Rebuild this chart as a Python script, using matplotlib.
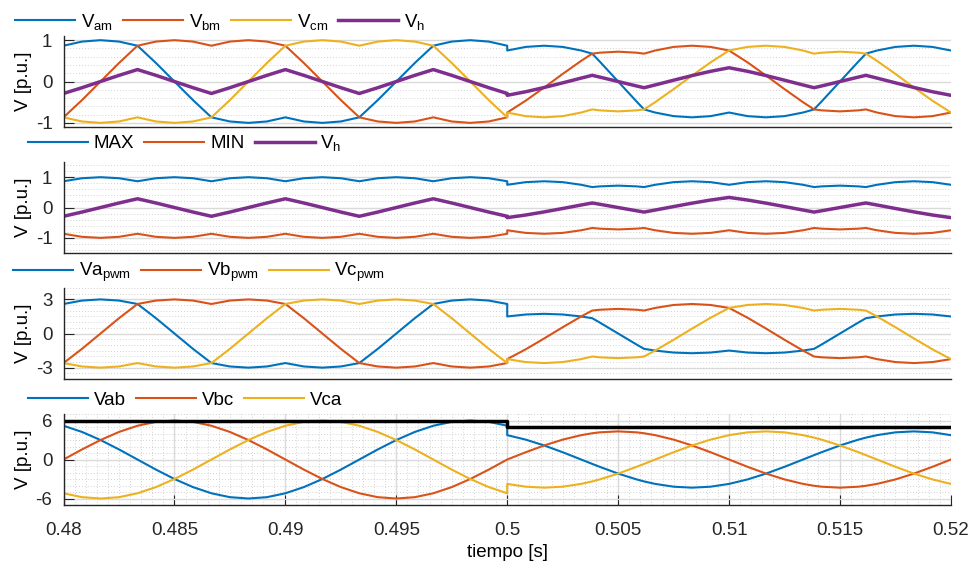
import numpy as np
import matplotlib
matplotlib.use("Agg")
import matplotlib.pyplot as plt
from matplotlib.ticker import MultipleLocator

plt.rcParams['font.family'] = ['Liberation Sans', 'DejaVu Sans']
plt.rcParams['mathtext.fontset'] = 'custom'
plt.rcParams['mathtext.rm'] = 'Liberation Sans'
plt.rcParams['axes.unicode_minus'] = False

# ---- data (two halves: before / after the step at t = 0.5 s) ----
t_pre = [0.48, 0.480833, 0.481667, 0.4825, 0.483333, 0.484167, 0.485, 0.485833, 0.486667,
         0.4875, 0.488333, 0.489167, 0.49, 0.490833, 0.491667, 0.4925, 0.493333, 0.494167,
         0.495, 0.495833, 0.496667, 0.4975, 0.498333, 0.499167, 0.5]
t_post = [0.5, 0.500833, 0.501667, 0.5025, 0.503333, 0.503831, 0.504167, 0.505, 0.505833,
          0.506169, 0.506667, 0.5075, 0.508333, 0.509167, 0.51, 0.510833, 0.511667, 0.5125,
          0.513333, 0.513831, 0.514167, 0.515, 0.515833, 0.516169, 0.516667, 0.5175,
          0.518333, 0.519167, 0.52]

# panel 1: modulating signals + zero sequence
vam_pre = [0.866, 0.966, 1.0, 0.966, 0.866, 0.448, 0.0, -0.448, -0.866, -0.966, -1.0, -0.966, -0.866,
           -0.966, -1.0, -0.966, -0.866, -0.448, 0.0, 0.448, 0.866, 0.966, 1.0, 0.966, 0.866]
vbm_pre = [-0.866, -0.448, 0.0, 0.448, 0.866, 0.966, 1.0, 0.966, 0.866, 0.966, 1.0, 0.966, 0.866,
           0.448, 0.0, -0.448, -0.866, -0.966, -1.0, -0.966, -0.866, -0.966, -1.0, -0.966, -0.866]
vcm_pre = [-0.866, -0.966, -1.0, -0.966, -0.866, -0.966, -1.0, -0.966, -0.866, -0.448, 0.0, 0.448, 0.866,
           0.966, 1.0, 0.966, 0.866, 0.966, 1.0, 0.966, 0.866, 0.448, 0.0, -0.448, -0.866]
vh_pre = [-0.289, -0.149, 0.0, 0.149, 0.289, 0.149, 0.0, -0.149, -0.289, -0.149, 0.0, 0.149, 0.289,
          0.149, 0.0, -0.149, -0.289, -0.149, 0.0, 0.149, 0.289, 0.149, 0.0, -0.149, -0.289]

vam_post = [0.75, 0.837, 0.866, 0.837, 0.75, 0.674, 0.485, 0.0, -0.485, -0.674, -0.75, -0.837, -0.866,
            -0.837, -0.75, -0.837, -0.866, -0.837, -0.75, -0.674, -0.485, 0.0, 0.485, 0.674, 0.75,
            0.837, 0.866, 0.837, 0.75]
vbm_post = [-0.75, -0.463, -0.144, 0.184, 0.5, 0.674, 0.697, 0.722, 0.697, 0.674, 0.75, 0.837, 0.866,
            0.837, 0.75, 0.463, 0.144, -0.184, -0.5, -0.674, -0.697, -0.722, -0.697, -0.674, -0.75,
            -0.837, -0.866, -0.837, -0.75]
vcm_post = [-0.75, -0.837, -0.866, -0.837, -0.75, -0.674, -0.697, -0.722, -0.697, -0.674, -0.5, -0.184,
            0.144, 0.463, 0.75, 0.837, 0.866, 0.837, 0.75, 0.674, 0.697, 0.722, 0.697, 0.674, 0.5,
            0.184, -0.144, -0.463, -0.75]
vh_post = [-0.333, -0.247, -0.144, -0.032, 0.083, 0.150, 0.108, 0.0, -0.108, -0.150, -0.083, 0.032,
           0.144, 0.247, 0.333, 0.247, 0.144, 0.032, -0.083, -0.150, -0.108, 0.0, 0.108, 0.150,
           0.083, -0.032, -0.144, -0.247, -0.333]

# panel 2: envelope of the modulating signals
max_pre = [0.866, 0.966, 1.0, 0.966, 0.866, 0.966, 1.0, 0.966, 0.866, 0.966, 1.0, 0.966, 0.866,
           0.966, 1.0, 0.966, 0.866, 0.966, 1.0, 0.966, 0.866, 0.966, 1.0, 0.966, 0.866]
min_pre = [-0.866, -0.966, -1.0, -0.966, -0.866, -0.966, -1.0, -0.966, -0.866, -0.966, -1.0, -0.966,
           -0.866, -0.966, -1.0, -0.966, -0.866, -0.966, -1.0, -0.966, -0.866, -0.966, -1.0, -0.966,
           -0.866]
max_post = [0.75, 0.837, 0.866, 0.837, 0.75, 0.674, 0.697, 0.722, 0.697, 0.674, 0.75, 0.837, 0.866,
            0.837, 0.75, 0.837, 0.866, 0.837, 0.75, 0.674, 0.697, 0.722, 0.697, 0.674, 0.75, 0.837,
            0.866, 0.837, 0.75]
min_post = [-0.75, -0.837, -0.866, -0.837, -0.75, -0.674, -0.697, -0.722, -0.697, -0.674, -0.75,
            -0.837, -0.866, -0.837, -0.75, -0.837, -0.866, -0.837, -0.75, -0.674, -0.697, -0.722,
            -0.697, -0.674, -0.75, -0.837, -0.866, -0.837, -0.75]

# panel 3: phase pwm voltages
vapwm_pre = [2.598, 2.898, 3.0, 2.898, 2.598, 1.345, 0.0, -1.345, -2.598, -2.898, -3.0, -2.898, -2.598,
             -2.898, -3.0, -2.898, -2.598, -1.345, 0.0, 1.345, 2.598, 2.898, 3.0, 2.898, 2.598]
vbpwm_pre = [-2.598, -1.345, 0.0, 1.345, 2.598, 2.898, 3.0, 2.898, 2.598, 2.898, 3.0, 2.898, 2.598,
             1.345, 0.0, -1.345, -2.598, -2.898, -3.0, -2.898, -2.598, -2.898, -3.0, -2.898, -2.598]
vcpwm_pre = [-2.598, -2.898, -3.0, -2.898, -2.598, -2.898, -3.0, -2.898, -2.598, -1.345, 0.0, 1.345,
             2.598, 2.898, 3.0, 2.898, 2.598, 2.898, 3.0, 2.898, 2.598, 1.345, 0.0, -1.345, -2.598]
vapwm_post = [1.5, 1.673, 1.732, 1.673, 1.5, 1.347, 0.971, 0.0, -0.971, -1.347, -1.5, -1.673, -1.732,
              -1.673, -1.5, -1.673, -1.732, -1.673, -1.5, -1.347, -0.971, 0.0, 0.971, 1.347, 1.5,
              1.673, 1.732, 1.673, 1.5]
vbpwm_post = [-2.25, -1.389, -0.433, 0.552, 1.5, 2.021, 2.091, 2.165, 2.091, 2.021, 2.25, 2.51, 2.598,
              2.51, 2.25, 1.389, 0.433, -0.552, -1.5, -2.021, -2.091, -2.165, -2.091, -2.021, -2.25,
              -2.51, -2.598, -2.51, -2.25]
vcpwm_post = [-2.25, -2.51, -2.598, -2.51, -2.25, -2.021, -2.091, -2.165, -2.091, -2.021, -1.5, -0.552,
              0.433, 1.389, 2.25, 2.51, 2.598, 2.51, 2.25, 2.021, 2.091, 2.165, 2.091, 2.021, 1.5,
              0.552, -0.433, -1.389, -2.25]

# panel 4: line voltages and dc level
vab_pre = [5.196, 4.243, 3.0, 1.553, 0.0, -1.553, -3.0, -4.243, -5.196, -5.796, -6.0, -5.796, -5.196,
           -4.243, -3.0, -1.553, 0.0, 1.553, 3.0, 4.243, 5.196, 5.796, 6.0, 5.796, 5.196]
vbc_pre = [0.0, 1.553, 3.0, 4.243, 5.196, 5.796, 6.0, 5.796, 5.196, 4.243, 3.0, 1.553, 0.0,
           -1.553, -3.0, -4.243, -5.196, -5.796, -6.0, -5.796, -5.196, -4.243, -3.0, -1.553, 0.0]
vca_pre = [-5.196, -5.796, -6.0, -5.796, -5.196, -4.243, -3.0, -1.553, 0.0, 1.553, 3.0, 4.243, 5.196,
           5.796, 6.0, 5.796, 5.196, 4.243, 3.0, 1.553, 0.0, -1.553, -3.0, -4.243, -5.196]
vab_post = [3.75, 3.062, 2.165, 1.121, 0.0, -0.674, -1.121, -2.165, -3.062, -3.37, -3.75, -4.182,
            -4.33, -4.182, -3.75, -3.062, -2.165, -1.121, 0.0, 0.674, 1.121, 2.165, 3.062, 3.37,
            3.75, 4.182, 4.33, 4.182, 3.75]
vbc_post = [0.0, 1.121, 2.165, 3.062, 3.75, 4.041, 4.182, 4.33, 4.182, 4.041, 3.75, 3.062, 2.165,
            1.121, 0.0, -1.121, -2.165, -3.062, -3.75, -4.041, -4.182, -4.33, -4.182, -4.041, -3.75,
            -3.062, -2.165, -1.121, 0.0]
vca_post = [-3.75, -4.182, -4.33, -4.182, -3.75, -3.37, -3.062, -2.165, -1.121, -0.674, 0.0, 1.121,
            2.165, 3.062, 3.75, 4.182, 4.33, 4.182, 3.75, 3.37, 3.062, 2.165, 1.121, 0.674, 0.0,
            -1.121, -2.165, -3.062, -3.75]
t_dc = [0.48, 0.5, 0.5, 0.52]
vdc = [6.0, 6.0, 5.0, 5.0]

xticks = [0.48, 0.485, 0.49, 0.495, 0.5, 0.505, 0.51, 0.515, 0.52]
xticklabels = ['0.48', '0.485', '0.49', '0.495', '0.5', '0.505', '0.51', '0.515', '0.52']

BLUE, ORANGE, YELLOW, PURPLE = '#0072BD', '#D95319', '#EDB120', '#7E2F8E'
FS = 13.5


def join(a, b):
    return np.concatenate([a, b])


t = join(t_pre, t_post)

fig = plt.figure(figsize=(9.73, 5.64), dpi=100)
left, width, height = 0.0653, 0.912, 0.1613
bottoms = [0.7748, 0.5514, 0.328, 0.1046]
axs = [fig.add_axes([left, b, width, height]) for b in bottoms]

# panel settings: ylim, major ticks, minor step
ysets = [((-1.1, 1.1), [-1, 0, 1], 0.2),
         ((-1.5, 1.5), [-1, 0, 1], 0.2),
         ((-4, 4), [-3, 0, 3], 0.5),
         ((-7, 7), [-6, 0, 6], 1.0)]

for i, ax in enumerate(axs):
    ylim, yt, ystep = ysets[i]
    ax.set_xlim(0.48, 0.52)
    ax.set_ylim(*ylim)
    ax.set_yticks(yt)
    ax.set_yticklabels([str(v) for v in yt])
    ax.yaxis.set_minor_locator(MultipleLocator(ystep))
    ax.set_xticks(xticks)
    ax.xaxis.set_minor_locator(MultipleLocator(0.0005))
    for s in ['top', 'right']:
        ax.spines[s].set_visible(False)
    for s in ['left', 'bottom']:
        ax.spines[s].set_color('#262626')
        ax.spines[s].set_linewidth(1.0)
    ax.tick_params(which='major', direction='in', length=7, width=0.8, colors='#262626',
                   labelsize=FS, pad=8)
    ax.tick_params(which='minor', length=0)
    gaxis = 'both' if i == 3 else 'y'
    ax.grid(True, which='major', axis=gaxis, color='#dadada', lw=1.0, ls='-')
    ax.grid(True, which='minor', axis=gaxis, color='#c4c4c4', lw=0.6, ls=(0, (1, 2.5)))
    ax.set_axisbelow(True)
    ax.set_ylabel('V [p.u.]', fontsize=FS)
    ax.yaxis.set_label_coords(-0.036, 0.5)
    if i < 3:
        ax.tick_params(axis='x', which='both', length=0, labelbottom=False)
    else:
        ax.set_xticklabels(xticklabels)
        ax.tick_params(axis='x', pad=12)
        ax.set_xlabel('tiempo [s]', fontsize=FS, labelpad=4)

# panel 1
ax = axs[0]
ax.plot(t, join(vam_pre, vam_post), color=BLUE, lw=1.5, label=r'$\mathregular{V_{am}}$')
ax.plot(t, join(vbm_pre, vbm_post), color=ORANGE, lw=1.5, label=r'$\mathregular{V_{bm}}$')
ax.plot(t, join(vcm_pre, vcm_post), color=YELLOW, lw=1.5, label=r'$\mathregular{V_{cm}}$')
ax.plot(t, join(vh_pre, vh_post), color=PURPLE, lw=2.5, label=r'$\mathregular{V_{h}}$')

# panel 2
ax = axs[1]
ax.plot(t, join(max_pre, max_post), color=BLUE, lw=1.5, label='MAX')
ax.plot(t, join(min_pre, min_post), color=ORANGE, lw=1.5, label='MIN')
ax.plot(t, join(vh_pre, vh_post), color=PURPLE, lw=2.5, label=r'$\mathregular{V_{h}}$')

# panel 3
ax = axs[2]
ax.plot(t, join(vapwm_pre, vapwm_post), color=BLUE, lw=1.5, label=r'$\mathregular{Va_{pwm}}$')
ax.plot(t, join(vbpwm_pre, vbpwm_post), color=ORANGE, lw=1.5, label=r'$\mathregular{Vb_{pwm}}$')
ax.plot(t, join(vcpwm_pre, vcpwm_post), color=YELLOW, lw=1.5, label=r'$\mathregular{Vc_{pwm}}$')

# panel 4
ax = axs[3]
ax.plot(t, join(vab_pre, vab_post), color=BLUE, lw=1.5, label='Vab')
ax.plot(t, join(vbc_pre, vbc_post), color=ORANGE, lw=1.5, label='Vbc')
ax.plot(t, join(vca_pre, vca_post), color=YELLOW, lw=1.5, label='Vca')
ax.plot(t_dc, vdc, color='black', lw=2.5)

# legends sit above each panel, horizontal, no frame
leg_pos = [(0.0154, 0.961), (0.0288, 0.7456), (0.0134, 0.5168), (0.0288, 0.2908)]
for ax, (lx, ly) in zip(axs, leg_pos):
    h, l = ax.get_legend_handles_labels()
    ax.legend(h, l, loc='center left', bbox_to_anchor=(lx, ly), bbox_transform=fig.transFigure,
              ncol=len(h), frameon=False, borderpad=0, borderaxespad=0, handlelength=3.2,
              handletextpad=0.3, columnspacing=0.55, fontsize=FS)

fig.savefig('out.png', dpi=100)
